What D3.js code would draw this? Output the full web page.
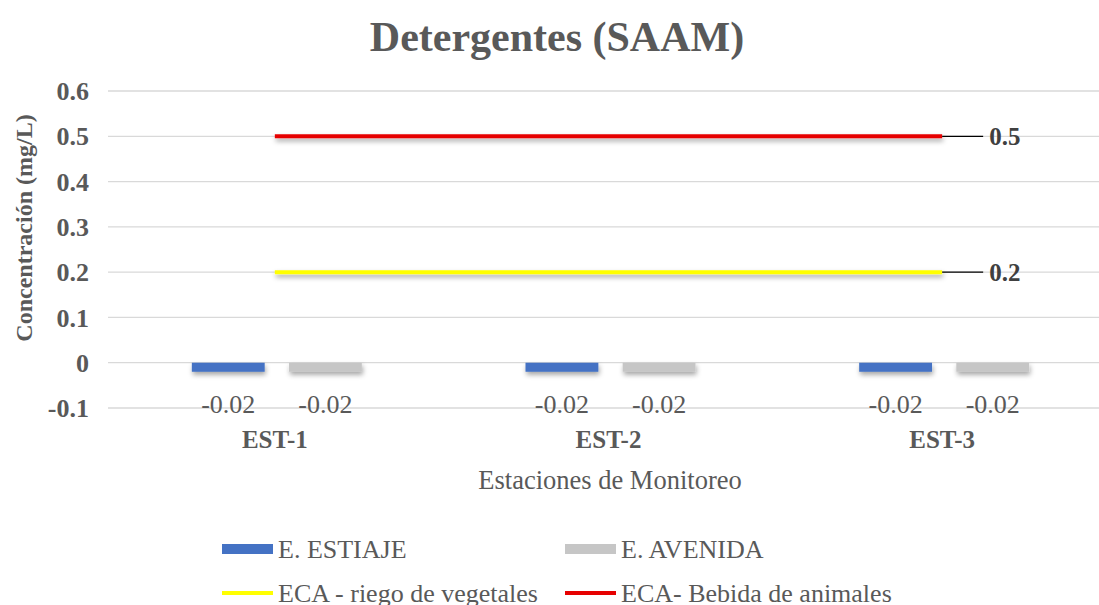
<!DOCTYPE html>
<html lang="es">
  <head>
    <meta charset="utf-8">
    <script src="https://d3js.org/d3.v7.min.js"></script>
    <title>Detergentes (SAAM)</title>
    <style>
      body{margin:0;background:#fff;}
      svg text{font-family:"Liberation Serif","Times New Roman",serif;fill:#595959;}
      .grid line{stroke:#d9d9d9;stroke-width:1.3;}
    </style>
  </head>
  <body>
    <script>

      // data
      var stations=["EST-1","EST-2","EST-3"];
      var estiaje=[-0.02,-0.02,-0.02];
      var avenida=[-0.02,-0.02,-0.02];
      var ecaRiego=[0.2,0.2,0.2];
      var ecaBebida=[0.5,0.5,0.5];
      var yTicks=[-0.1,0,0.1,0.2,0.3,0.4,0.5,0.6];

      var width=1099, height=605;
      var svg=d3.select("body").append("svg").attr("width",width).attr("height",height);

      // shadow filter, user space so flat lines keep it
      var defs=svg.append("defs");
      var f=defs.append("filter").attr("id","shadow").attr("filterUnits","userSpaceOnUse")
        .attr("x",0).attr("y",0).attr("width",width).attr("height",height);
      f.append("feDropShadow").attr("dx",1).attr("dy",3).attr("stdDeviation",2.5).attr("flood-color","#000").attr("flood-opacity",0.35);

      var x=d3.scaleBand().domain(stations).range([108,1109]);
      var y=d3.scaleLinear().domain([-0.1,0.6]).range([408,91]);
      var x1=d3.scaleBand().domain(["estiaje","avenida"]).range([-83,87]).paddingInner(0.25);

      // gridlines
      svg.append("g").attr("class","grid").selectAll("line").data(yTicks).enter().append("line")
        .attr("x1",108).attr("x2",width)
        .attr("y1",function(d){return y(d);}).attr("y2",function(d){return y(d);});

      // y tick labels
      svg.append("g").selectAll("text").data(yTicks).enter().append("text")
        .attr("x",89).attr("y",function(d){return y(d);}).attr("dy","0.35em")
        .attr("text-anchor","end").style("font-size","26px").style("font-weight","bold")
        .text(function(d){return String(+d.toFixed(1));});

      // bars
      var series=[{key:"estiaje",values:estiaje,color:"#4472c4"},{key:"avenida",values:avenida,color:"#c6c6c6"}];
      series.forEach(function(s){
        svg.append("g").selectAll("rect").data(s.values).enter().append("rect")
          .attr("x",function(d,i){return x(stations[i])+x.bandwidth()/2+x1(s.key);})
          .attr("y",function(d){return y(Math.max(0,d));})
          .attr("width",x1.bandwidth())
          .attr("height",function(d){return Math.abs(y(d)-y(0));})
          .attr("fill",s.color).attr("filter","url(#shadow)");
        svg.append("g").selectAll("text").data(s.values).enter().append("text")
          .attr("x",function(d,i){return x(stations[i])+x.bandwidth()/2+x1(s.key)+x1.bandwidth()/2;})
          .attr("y",413).attr("text-anchor","middle").style("font-size","26px")
          .text(function(d){return d;});
      });

      // ECA lines
      var lines=[{values:ecaRiego,color:"#ffff00"},{values:ecaBebida,color:"#e60000"}];
      var line=d3.line().x(function(d,i){return x(stations[i])+x.bandwidth()/2;}).y(function(d){return y(d);});
      lines.forEach(function(l){
        svg.append("path").datum(l.values).attr("d",line).attr("fill","none")
          .attr("stroke",l.color).attr("stroke-width",4).attr("filter","url(#shadow)");
        var last=l.values[l.values.length-1];
        var lx=x(stations[2])+x.bandwidth()/2;
        svg.append("line").attr("x1",lx).attr("x2",lx+41).attr("y1",y(last)).attr("y2",y(last))
          .attr("stroke","#000").attr("stroke-width",1.3);
        svg.append("text").attr("x",lx+47).attr("y",y(last)).attr("dy","0.35em")
          .style("font-size","25px").style("font-weight","bold").style("fill","#404040")
          .text(last);
      });

      // category labels
      svg.append("g").selectAll("text").data(stations).enter().append("text")
        .attr("x",function(d){return x(d)+x.bandwidth()/2;}).attr("y",448)
        .attr("text-anchor","middle").style("font-size","25px").style("font-weight","bold")
        .text(function(d){return d;});

      // axis titles
      svg.append("text").attr("x",610).attr("y",489).attr("text-anchor","middle")
        .style("font-size","26.5px").text("Estaciones de Monitoreo");
      svg.append("text").attr("transform","translate(32,228) rotate(-90)").attr("text-anchor","middle")
        .style("font-size","24px").style("font-weight","bold").text("Concentración (mg/L)");

      // title
      svg.append("text").attr("x",557).attr("y",51).attr("text-anchor","middle")
        .style("font-size","42px").style("font-weight","bold").text("Detergentes (SAAM)");

      // legend
      var legend=[
        {label:"E. ESTIAJE",color:"#4472c4",type:"rect",x:222,y:549},
        {label:"E. AVENIDA",color:"#c6c6c6",type:"rect",x:565,y:549},
        {label:"ECA - riego de vegetales",color:"#ffff00",type:"line",x:222,y:593},
        {label:"ECA- Bebida de animales",color:"#e60000",type:"line",x:565,y:593}
      ];
      legend.forEach(function(d){
        if(d.type=="rect"){
          svg.append("rect").attr("x",d.x).attr("y",d.y-5).attr("width",51).attr("height",10).attr("fill",d.color);
        } else {
          svg.append("line").attr("x1",d.x).attr("x2",d.x+51).attr("y1",d.y).attr("y2",d.y)
            .attr("stroke",d.color).attr("stroke-width",4);
        }
        svg.append("text").attr("x",d.x+56).attr("y",d.y).attr("dy","0.35em")
          .style("font-size","26px").text(d.label);
      });

    </script>
  </body>
</html>
